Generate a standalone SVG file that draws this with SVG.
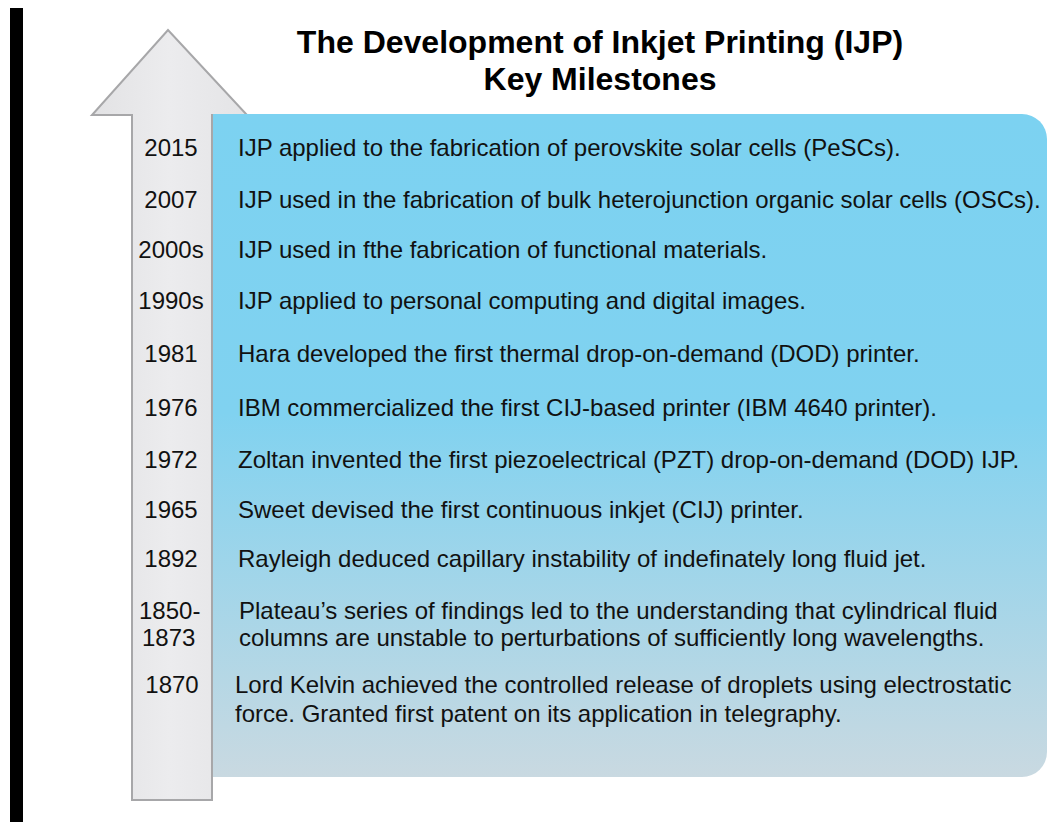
<svg xmlns="http://www.w3.org/2000/svg" width="1047" height="822" viewBox="0 0 1047 822">
<defs>
<linearGradient id="boxGrad" x1="0" y1="0" x2="0" y2="1">
<stop offset="0" stop-color="#7cd2f1"/>
<stop offset="0.45" stop-color="#80d2f0"/>
<stop offset="1" stop-color="#c9d9e1"/>
</linearGradient>
<linearGradient id="arrowGrad" x1="0" y1="0" x2="1" y2="0">
<stop offset="0" stop-color="#e2e2e4"/>
<stop offset="0.5" stop-color="#ececee"/>
<stop offset="1" stop-color="#e4e4e6"/>
</linearGradient>
</defs>
<style>
.title{font-family:"Liberation Sans",Arial,sans-serif;font-weight:bold;font-size:32px;fill:#000;text-anchor:middle}
.yr{font-family:"Liberation Sans",Arial,sans-serif;font-size:24px;fill:#111;text-anchor:middle}
.yrs{font-family:"Liberation Sans",Arial,sans-serif;font-size:24px;fill:#111}
.desc{font-family:"Liberation Sans",Arial,sans-serif;font-size:24px;fill:#111}
</style>
<rect x="0" y="0" width="1047" height="822" fill="#ffffff"/>
<rect id="sidebar" x="10" y="8" width="13" height="814" fill="#000"/>
<g id="title">
<text class="title" x="600" y="53">The Development of Inkjet Printing (IJP)</text>
<text class="title" x="600" y="90">Key Milestones</text>
</g>
<g id="arrow">
<polygon points="132,800 132,115 92,115 168,30 247,115 212,115 212,800" fill="url(#arrowGrad)" stroke="#a7a7a9" stroke-width="2" stroke-linejoin="miter"/>
</g>
<g id="box">
<path d="M213 114 H1022 A25 25 0 0 1 1047 139 V752 A25 25 0 0 1 1022 777 H213 Z" fill="url(#boxGrad)"/>
</g>
<g id="connectors"></g>
<g id="m2015"><text class="yr" x="171" y="156">2015</text><text class="desc" x="238" y="156">IJP applied to the fabrication of perovskite solar cells (PeSCs).</text></g>
<g id="m2007"><text class="yr" x="171" y="208">2007</text><text class="desc" x="238" y="208">IJP used in the fabrication of bulk heterojunction organic solar cells (OSCs).</text></g>
<g id="m2000s"><text class="yr" x="171" y="258">2000s</text><text class="desc" x="238" y="258">IJP used in fthe fabrication of functional materials.</text></g>
<g id="m1990s"><text class="yr" x="171" y="309">1990s</text><text class="desc" x="238" y="309">IJP applied to personal computing and digital images.</text></g>
<g id="m1981"><text class="yr" x="171" y="362">1981</text><text class="desc" x="238" y="362">Hara developed the first thermal drop-on-demand (DOD) printer.</text></g>
<g id="m1976"><text class="yr" x="171" y="416">1976</text><text class="desc" x="238" y="416">IBM commercialized the first CIJ-based printer (IBM 4640 printer).</text></g>
<g id="m1972"><text class="yr" x="171" y="468">1972</text><text class="desc" x="238" y="468">Zoltan invented the first piezoelectrical (PZT) drop-on-demand (DOD) IJP.</text></g>
<g id="m1965"><text class="yr" x="171" y="518">1965</text><text class="desc" x="238" y="518">Sweet devised the first continuous inkjet (CIJ) printer.</text></g>
<g id="m1892"><text class="yr" x="171" y="567">1892</text><text class="desc" x="238" y="567">Rayleigh deduced capillary instability of indefinately long fluid jet.</text></g>
<g id="m1850"><text class="yrs" x="139" y="619">1850-</text><text class="yrs" x="142" y="646">1873</text><text class="desc" x="239" y="619">Plateau’s series of findings led to the understanding that cylindrical fluid</text><text class="desc" x="239" y="646">columns are unstable to perturbations of sufficiently long wavelengths.</text></g>
<g id="m1870"><text class="yr" x="172" y="693">1870</text><text class="desc" x="235" y="693">Lord Kelvin achieved the controlled release of droplets using electrostatic</text><text class="desc" x="235" y="722">force. Granted first patent on its application in telegraphy.</text></g>
</svg>
